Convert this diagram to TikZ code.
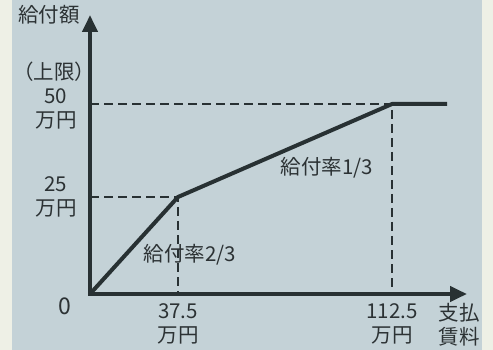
\documentclass[tikz,border=0pt]{standalone}
\usepackage{fontspec}
\setmainfont{Noto Sans CJK JP}
\usetikzlibrary{arrows.meta}
\definecolor{bg}{HTML}{C4D2D7}
\definecolor{pa}{HTML}{EEF0E6}
\definecolor{ln}{HTML}{283133}
\definecolor{tx}{HTML}{2C3234}

\begin{document}
\begin{tikzpicture}[x=1pt, y=-1pt,
  axis/.style={draw=ln, line width=4pt, line join=miter},
  curve/.style={draw=ln, line width=4pt, line join=round},
  guide/.style={draw=ln, line width=1.8pt, dash pattern=on 9pt off 5pt},
  lbl/.style={text=tx, inner sep=0pt, align=center, font=\fontsize{20.5}{24}\selectfont}]
  % paper and panel
  \fill[pa] (0,0) rectangle (493,350);
  \fill[bg] (12,0) rectangle (482,350);
  \useasboundingbox (0,0) rectangle (493,350);

  \coordinate (O) at (90,294);
  \coordinate (ytip) at (90,15);
  \coordinate (xtip) at (467,294);
  \coordinate (A) at (178,197);
  \coordinate (B) at (392,104);
  \coordinate (C) at (447,104);

  % guide lines
  \draw[guide] (A -| O) -- (A) -- (A |- O);
  \draw[guide] (B -| O) -- (B) -- (B |- O);

  % axes
  \draw[axis, {Triangle[length=17pt,width=15pt]}-{Triangle[length=17pt,width=15pt]}] (ytip) -- (O) -- (xtip);

  % benefit curve
  \draw[curve] (O) -- (A) -- (B) -- (C);

  % labels
  \node[lbl] (ytitle) at (49,15) {給付額};
  \node[lbl] (cap) at (54,72) {（上限）};
  \node[lbl] (y50) at (56,109) {50\\万円};
  \node[lbl] (y25) at (56,197) {25\\万円};
  \node[lbl, font=\fontsize{23}{24}\selectfont] (zero) at (65,306) {0};
  \node[lbl] (x37) at (178,324) {37.5\\万円};
  \node[lbl] (x112) at (392,324) {112.5\\万円};
  \node[lbl] (xtitle) at (459,325) {支払\\賃料};
  \node[lbl] (rate13) at (327,168) {給付率1/3};
  \node[lbl] (rate23) at (190,255) {給付率2/3};
\end{tikzpicture}
\end{document}
